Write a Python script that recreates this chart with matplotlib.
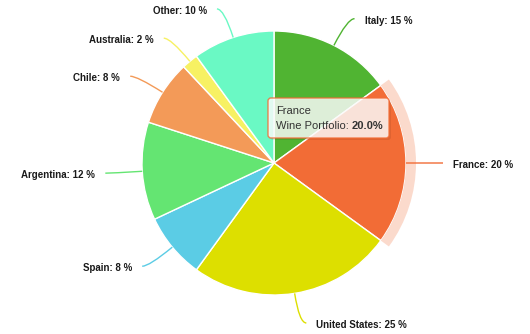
import numpy as np
import matplotlib.pyplot as plt
from matplotlib.patches import Wedge, FancyBboxPatch
from matplotlib.path import Path
from matplotlib.patches import PathPatch

countries = ["Italy", "France", "United States", "Spain", "Argentina", "Chile", "Australia", "Other"]
shares = [15, 20, 25, 8, 12, 8, 2, 10]
colors = ["#50B432", "#F26C36", "#DDDF00", "#5BCCE5", "#64E572", "#F39A58", "#F7F163", "#6AF9C4"]
hovered = "France"

W, H = 530, 334
cx, cy, R = 274, H - 163, 132

plt.rcParams["font.family"] = ["Liberation Sans", "DejaVu Sans"]

fig = plt.figure(figsize=(W / 100, H / 100), dpi=100)
ax = fig.add_axes([0, 0, 1, 1])

wedges, _ = ax.pie(shares, colors=colors, startangle=90, counterclock=False,
                   center=(cx, cy), radius=R, frame=True,
                   wedgeprops=dict(edgecolor="white", linewidth=1))
ax.set_xlim(0, W)
ax.set_ylim(0, H)
ax.axis("off")

total = float(sum(shares))
cum = 0.0
for name, val, col, w in zip(countries, shares, colors, wedges):
    a0 = cum / total * 360
    cum += val
    a1 = cum / total * 360
    mid = np.radians((a0 + a1) / 2)
    dx, dy = np.sin(mid), np.cos(mid)
    side = 1 if dx >= 0 else -1

    if name == hovered:
        # halo around the hovered slice
        ax.add_patch(Wedge((cx, cy), R + 10, 90 - a1, 90 - a0, width=10,
                           facecolor=col, alpha=0.25, edgecolor="none"))

    # soft connector: radial out from the edge, then a short hook sideways
    p0 = (cx + R * dx, cy + R * dy)
    p1 = (cx + 162 * dx, cy + 162 * dy)
    p2 = (p1[0] + 7 * side, p1[1])
    path = Path([p0, p1, p2], [Path.MOVETO, Path.CURVE3, Path.CURVE3])
    ax.add_patch(PathPatch(path, facecolor="none", edgecolor=col, lw=1))

    ax.text(p2[0] + 10 * side, p2[1] - 2, "%s: %d %%" % (name, val),
            ha="left" if side > 0 else "right", va="center",
            fontsize=7, fontweight="bold", color="#1a1a1a")

# tooltip
i = countries.index(hovered)
tx, ty, tw, th = 268, H - 138, 121, 40
ax.add_patch(FancyBboxPatch((tx + 2, ty - 2), tw, th, boxstyle="round,pad=0,rounding_size=3",
                            facecolor="black", alpha=0.08, edgecolor="none"))
ax.add_patch(FancyBboxPatch((tx, ty), tw, th, boxstyle="round,pad=0,rounding_size=3",
                            facecolor="white", alpha=0.82, edgecolor=colors[i], lw=1))
ax.text(tx + 8, H - 111, hovered, fontsize=8, color="#333333", va="center")
t1 = ax.text(tx + 8, H - 126, "Wine Portfolio: ", fontsize=8, color="#333333", va="center")
fig.canvas.draw()
bb = t1.get_window_extent()
ax.text(bb.x1, H - 126, "%.1f%%" % shares[i], fontsize=8, fontweight="bold",
        color="#333333", va="center")

fig.savefig("out.png", dpi=100)
